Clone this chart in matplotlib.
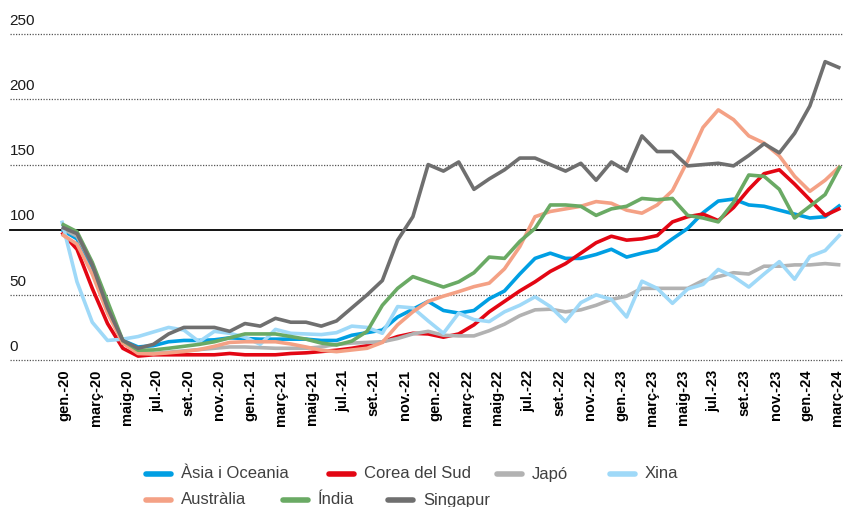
import numpy as np
import matplotlib
matplotlib.use("Agg")
import matplotlib.pyplot as plt
from matplotlib.lines import Line2D

plt.rcParams['font.family'] = ['Liberation Sans', 'DejaVu Sans']

# month labels every two months (gen.-20 ... març-24)
month_labels = ["gen.-20", "març-20", "maig-20", "jul.-20", "set.-20", "nov.-20",
                "gen.-21", "març-21", "maig-21", "jul.-21", "set.-21", "nov.-21",
                "gen.-22", "març-22", "maig-22", "jul.-22", "set.-22", "nov.-22",
                "gen.-23", "març-23", "maig-23", "jul.-23", "set.-23", "nov.-23",
                "gen.-24", "març-24"]
y_ticks = [0, 50, 100, 150, 200, 250]

# monthly index values
asia = [100, 93, 68, 38, 15, 10, 11, 14, 15, 15, 15.5, 17, 16.5, 16, 16, 16, 16, 15, 15, 19,
        21, 23, 33, 39, 45, 38, 36, 38, 47, 53, 66, 78, 82, 78, 78, 81, 85, 79, 82, 84.5,
        93, 101, 113, 122, 123.5, 119, 118, 115, 112, 109, 110, 119]
corea = [98, 85, 55, 28, 9, 3, 4, 4, 4, 4, 4, 5, 4, 4, 4, 5, 5.5, 6.5, 7.5, 9,
         11, 14, 18, 20.5, 20, 17.5, 20, 27, 37, 45, 53, 60, 68, 74, 82, 90, 95, 92, 93, 95.5,
         106, 110, 112, 107, 117, 131, 143, 146, 135, 123, 111, 116.5]
japo = [101, 95, 74, 42, 13, 6, 5, 6, 7, 8, 9, 10, 10, 9.5, 9, 9, 9, 10, 12, 13,
        13.5, 14, 16.5, 20, 22, 19, 18.5, 18.5, 22.5, 27.5, 34, 38.5, 39, 37, 38.5, 42, 46.5, 49, 55, 55,
        55, 55, 61, 64, 67, 66, 72, 72, 73, 73, 74, 73]
xina = [107, 60, 29, 15, 16, 18, 21.5, 25, 23, 14, 22, 20.5, 17.5, 12, 23.5, 20.5, 20, 19.5, 21, 26,
        25, 20.5, 41, 40, 30, 20.5, 36, 31, 29.5, 37, 42, 48.5, 41, 29.5, 44, 50, 46.5, 33, 60.5, 55,
        43.5, 54.5, 58, 69.5, 64, 56, 66, 75.5, 62, 79.5, 84, 96.5]
australia = [96.5, 89, 66, 36, 13, 5, 4.6, 5.5, 6.5, 8, 10.5, 13.5, 14, 14, 14, 12.3, 10, 7.5, 6.4, 7.7,
             9, 13.5, 27, 37, 45, 49, 52.5, 56.3, 59, 70, 87, 110, 114, 116, 118, 121.6, 120.3, 115, 112.7, 119,
             130, 153, 178.5, 192, 184.5, 172, 166.5, 156.7, 141, 129.5, 138, 149]
india = [104.5, 98.5, 75, 45, 15, 7.5, 7.7, 9, 10.5, 12, 14, 17, 20, 20, 20, 18, 16, 13, 11.5, 14.5,
         22, 42, 55, 64, 60, 56, 60, 67, 79, 78, 91, 101, 119, 119, 118, 111, 116, 118, 124, 123,
         124, 111, 109, 106, 121, 142, 141, 131, 109, 118, 127, 149]
singapur = [102, 97, 73, 40, 15, 9, 12, 20, 25, 25, 25, 22, 28, 26, 32, 29, 29, 26, 30, 40,
            50, 61, 92, 110, 150, 145, 152, 131, 139, 146, 155, 155, 150, 145, 151, 138, 152, 145, 172, 160,
            160, 149, 150, 151, 149, 157, 166, 159, 174, 195, 229, 224]

series = [
    ("Àsia i Oceania", asia, "#009fe3"),
    ("Corea del Sud", corea, "#e30613"),
    ("Japó", japo, "#b2b2b2"),
    ("Xina", xina, "#9fd9f8"),
    ("Austràlia", australia, "#f4a185"),
    ("Índia", india, "#6aaa64"),
    ("Singapur", singapur, "#6f6f6f"),
]

W, H = 843, 507
fig = plt.figure(figsize=(W / 100, H / 100), dpi=100)
ax = fig.add_axes([9.5 / W, 147 / H, 833.5 / W, 325.7 / H])

x = np.arange(len(asia))
for name, vals, color in series:
    ax.plot(x, vals, color=color, lw=2.6, solid_joinstyle='round',
            solid_capstyle='butt', label=name, zorder=3)

ax.set_xlim(-3.42, 51.17)
ax.set_ylim(0, 250)

# dotted grid, solid line at 100
for v in y_ticks:
    if v == 100:
        ax.axhline(v, color='black', lw=1.3, zorder=2, clip_on=False)
    else:
        ax.axhline(v, color='#555555', lw=0.9, ls=(0, (1, 1.2)), zorder=1, clip_on=False)
    ax.annotate(str(v), xy=(0, v), xycoords=('axes fraction', 'data'),
                xytext=(0, 4.5), textcoords='offset points',
                fontsize=11, ha='left', va='bottom', color='#1a1a1a')

ax.set_xticks(np.linspace(0.2, 50.8, len(month_labels)))
ax.set_xticklabels(month_labels, rotation=90, fontweight='bold', fontsize=10.5)
ax.tick_params(axis='x', length=0, pad=7)
ax.tick_params(axis='y', left=False, labelleft=False)
ax.set_yticks([])
for s in ax.spines.values():
    s.set_visible(False)

# legend, two rows as in the original
legend_x = [146, 329, 497, 610, 146, 283, 388]
legend_row = [0, 0, 0, 0, 1, 1, 1]
row_y = [474, 500]
for (name, vals, color), lx, r in zip(series, legend_x, legend_row):
    yy = 1 - row_y[r] / H
    fig.add_artist(Line2D([lx / W, (lx + 25) / W], [yy, yy], color=color, lw=4,
                          solid_capstyle='round'))
    fig.text((lx + 35) / W, yy, name, va='center', ha='left', fontsize=12, color='#404040')

fig.savefig("out.png", dpi=100)
